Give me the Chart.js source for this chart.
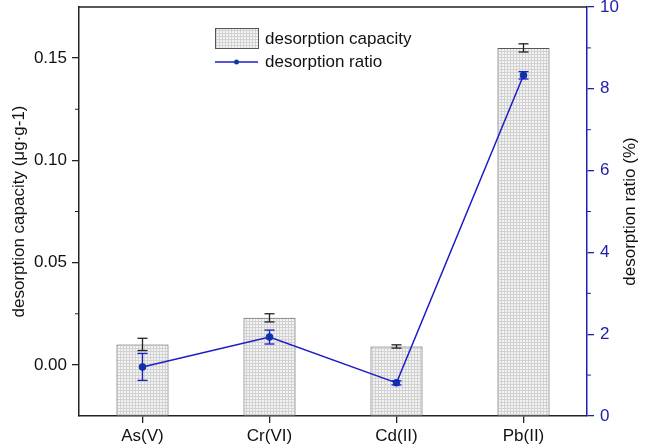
<!doctype html>
<html lang="en">
<head>
    <meta charset="utf-8">
    <title>Desorption capacity and ratio</title>
    <script src="https://cdn.jsdelivr.net/npm/chart.js@4.4.1/dist/chart.umd.min.js"></script>
    <style>
        html, body { margin: 0; padding: 0; background: #fff; }
        #wrap { width: 645px; height: 448px; }
    </style>
</head>
<body>
<div id="wrap">
    <canvas id="desorptionCanvas" width="645" height="448"></canvas>
</div>

<script>
    // values
    let categories = ['As(V)', 'Cr(VI)', 'Cd(II)', 'Pb(II)'];
    let capacity = [0.010, 0.023, 0.009, 0.155];
    let capacityErr = [0.003, 0.002, 0.0008, 0.002];
    let ratio = [1.20, 1.93, 0.81, 8.33];
    let ratioErr = [0.33, 0.17, 0.05, 0.09];
    let capacityTicks = [0.00, 0.05, 0.10, 0.15];
    let capacityMinor = [0.025, 0.075, 0.125];
    let ratioTicks = [0, 2, 4, 6, 8, 10];
    let ratioMinor = [1, 3, 5, 7, 9];

    const FONT = '"Liberation Sans", Arial, sans-serif';
    const BLUE = '#2020b0';
    const LINE_BLUE = '#1c1cc8';
    const POINT_BLUE = '#0d3a9e';
    const CAP_MIN = -0.025;

    function makePattern() {
        let c = document.createElement('canvas');
        c.width = 3;
        c.height = 3;
        let g = c.getContext('2d');
        g.fillStyle = '#f3f3f3';
        g.fillRect(0, 0, 3, 3);
        g.fillStyle = '#d2d2d2';
        g.fillRect(0, 0, 3, 1);
        g.fillRect(0, 0, 1, 3);
        return document.getElementById('desorptionCanvas').getContext('2d').createPattern(c, 'repeat');
    }
    let barPattern = makePattern();

    function vline(ctx, x, y1, y2) {
        ctx.beginPath();
        ctx.moveTo(x, y1);
        ctx.lineTo(x, y2);
        ctx.stroke();
    }
    function hline(ctx, x1, x2, y) {
        ctx.beginPath();
        ctx.moveTo(x1, y);
        ctx.lineTo(x2, y);
        ctx.stroke();
    }

    const errorBars = {
        id: 'errorBars',
        afterDatasetsDraw(chart) {
            let ctx = chart.ctx;
            let x = chart.scales.x;
            let y = chart.scales.y;
            let y1 = chart.scales.y1;
            ctx.save();
            ctx.lineWidth = 1.3;
            ctx.strokeStyle = '#222';
            capacity.forEach(function (v, i) {
                let px = x.getPixelForValue(i);
                let top = y.getPixelForValue(v + capacityErr[i]);
                let bot = y.getPixelForValue(v - capacityErr[i]);
                vline(ctx, px, top, bot);
                hline(ctx, px - 5, px + 5, top);
                hline(ctx, px - 5, px + 5, bot);
            });
            ctx.strokeStyle = LINE_BLUE;
            ratio.forEach(function (v, i) {
                let px = x.getPixelForValue(i);
                let top = y1.getPixelForValue(v + ratioErr[i]);
                let bot = y1.getPixelForValue(v - ratioErr[i]);
                vline(ctx, px, top, bot);
                hline(ctx, px - 5, px + 5, top);
                hline(ctx, px - 5, px + 5, bot);
            });
            ctx.restore();
        }
    };

    const decorations = {
        id: 'decorations',
        afterDraw(chart) {
            let ctx = chart.ctx;
            let area = chart.chartArea;
            let y = chart.scales.y;
            let y1 = chart.scales.y1;
            ctx.save();
            // top frame
            ctx.strokeStyle = '#222';
            ctx.lineWidth = 1.5;
            hline(ctx, area.left, area.right, area.top);
            // minor ticks
            ctx.lineWidth = 1;
            capacityMinor.forEach(function (v) {
                hline(ctx, area.left - 4, area.left, y.getPixelForValue(v));
            });
            ctx.strokeStyle = BLUE;
            ratioMinor.forEach(function (v) {
                hline(ctx, area.right, area.right + 4, y1.getPixelForValue(v));
            });

            // axis titles
            ctx.fillStyle = '#111';
            ctx.font = '17px ' + FONT;
            ctx.textAlign = 'center';
            ctx.textBaseline = 'middle';
            let midY = (area.top + area.bottom) / 2;
            ctx.save();
            ctx.translate(19, midY);
            ctx.rotate(-Math.PI / 2);
            ctx.fillText('desorption capacity (\u03bcg\u00b7g-1)', 0, 0);
            ctx.restore();
            ctx.save();
            ctx.translate(630, midY);
            ctx.rotate(-Math.PI / 2);
            ctx.fillText('desorption ratio (%)', 0, 0);
            ctx.restore();

            // legend
            ctx.fillStyle = barPattern;
            ctx.fillRect(215, 28, 43, 20);
            ctx.strokeStyle = '#555';
            ctx.lineWidth = 1;
            ctx.strokeRect(215.5, 28.5, 43, 20);
            ctx.strokeStyle = LINE_BLUE;
            ctx.lineWidth = 1.5;
            hline(ctx, 215, 258, 62);
            ctx.fillStyle = POINT_BLUE;
            ctx.beginPath();
            ctx.arc(236.5, 62, 2.5, 0, Math.PI * 2);
            ctx.fill();
            ctx.fillStyle = '#111';
            ctx.textAlign = 'left';
            ctx.fillText('desorption capacity', 265, 39);
            ctx.fillText('desorption ratio', 265, 62);
            ctx.restore();
        }
    };

    function useTicks(list) {
        return function (scale) {
            scale.ticks = list.map(function (v) { return { value: v }; });
        };
    }

    new Chart(document.getElementById('desorptionCanvas'), {
        type: 'bar',
        data: {
            labels: categories,
            datasets: [{
                type: 'line',
                label: 'desorption ratio',
                data: ratio,
                yAxisID: 'y1',
                order: 0,
                borderColor: LINE_BLUE,
                borderWidth: 1.5,
                pointRadius: 3,
                pointBackgroundColor: POINT_BLUE,
                pointBorderColor: POINT_BLUE,
                tension: 0
            }, {
                type: 'bar',
                label: 'desorption capacity',
                data: capacity,
                base: CAP_MIN,
                yAxisID: 'y',
                order: 1,
                backgroundColor: barPattern,
                borderColor: '#555',
                borderWidth: 1,
                borderSkipped: false,
                categoryPercentage: 1,
                barPercentage: 0.41
            }]
        },
        options: {
            responsive: false,
            animation: false,
            devicePixelRatio: 1,
            layout: { padding: { top: 7, left: 0, right: 0, bottom: 0 } },
            plugins: {
                legend: { display: false },
                tooltip: { enabled: false }
            },
            scales: {
                x: {
                    grid: { display: true, drawOnChartArea: false, offset: false, tickLength: 7, tickColor: '#222', lineWidth: 1.3 },
                    border: { color: '#222', width: 1.5 },
                    ticks: { color: '#111', font: { family: FONT, size: 17 }, padding: 3, maxRotation: 0 },
                    afterFit: function (s) { s.height = 32; s.paddingLeft = 0; s.paddingRight = 0; }
                },
                y: {
                    position: 'left',
                    min: CAP_MIN,
                    max: 0.175,
                    ticks: {
                        color: '#111',
                        font: { family: FONT, size: 17 },
                        padding: 5,
                        callback: function (v) { return v.toFixed(2); }
                    },
                    afterBuildTicks: useTicks(capacityTicks),
                    grid: { drawOnChartArea: false, tickLength: 7, tickColor: '#222', lineWidth: 1.3 },
                    border: { color: '#222', width: 1.5 },
                    afterFit: function (s) { s.width = 79; s.paddingTop = 0; s.paddingBottom = 0; }
                },
                y1: {
                    position: 'right',
                    min: 0,
                    max: 10,
                    ticks: {
                        color: BLUE,
                        font: { family: FONT, size: 17 },
                        padding: 6
                    },
                    afterBuildTicks: useTicks(ratioTicks),
                    grid: { drawOnChartArea: false, tickLength: 7, tickColor: BLUE, lineWidth: 1.3 },
                    border: { color: BLUE, width: 1.5 },
                    afterFit: function (s) { s.width = 58; s.paddingTop = 0; s.paddingBottom = 0; }
                }
            }
        },
        plugins: [errorBars, decorations]
    });
</script>
</body>
</html>
